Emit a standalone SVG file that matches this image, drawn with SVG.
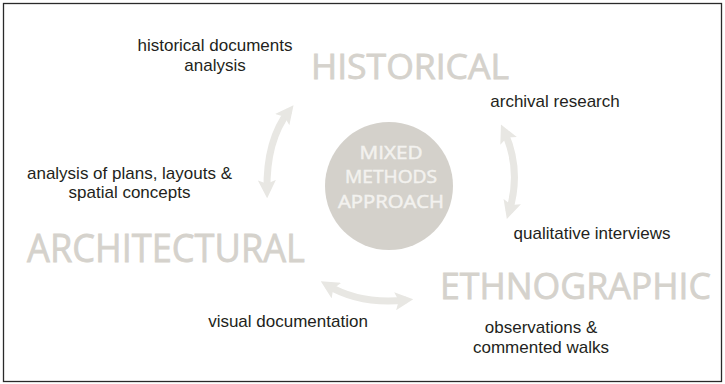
<svg xmlns="http://www.w3.org/2000/svg" width="725" height="384" viewBox="0 0 725 384">
<style>
.lbl{font-family:"Liberation Sans",Arial,sans-serif;font-size:17px;fill:#231f20;text-anchor:middle}
.big{font-family:"Open Sans","Noto Sans",sans-serif;fill:#d5d2cc;stroke:#d5d2cc;stroke-width:0.8}
.ctr{font-family:"Open Sans","Noto Sans",sans-serif;font-size:18px;fill:#f3f2ef;stroke:#f3f2ef;stroke-width:0.5;text-anchor:middle}
.arr{fill:none;stroke:#e8e7e3;stroke-width:7;marker-start:url(#hd);marker-end:url(#hd)}
</style>
<defs>
<marker id="hd" viewBox="0 0 10 10" refX="6" refY="5" markerWidth="2.6" markerHeight="2.6" orient="auto-start-reverse" markerUnits="strokeWidth">
<path d="M0,0 L10,5 L0,10 L2,5 Z" fill="#e8e7e3"/>
</marker>
</defs>
<rect x="3.5" y="3.5" width="718" height="378" fill="#fff" stroke="#2a2a2a" stroke-width="1.3"/>
<g id="connectors">
<path class="arr" d="M267,191 Q266,140 289,111"/>
<path class="arr" d="M504,131 Q522,170 509,212"/>
<path class="arr" d="M327,285 Q360,305 406,300"/>
</g>
<g id="center">
<circle cx="389" cy="186" r="64" fill="#d4d1cb"/>
<text class="ctr" x="391" y="159" textLength="63" lengthAdjust="spacingAndGlyphs">MIXED</text>
<text class="ctr" x="391" y="183" textLength="92" lengthAdjust="spacingAndGlyphs">METHODS</text>
<text class="ctr" x="391" y="208" textLength="106" lengthAdjust="spacingAndGlyphs">APPROACH</text>
</g>
<g id="historical">
<text class="big" x="311" y="79" font-size="34" textLength="198" lengthAdjust="spacingAndGlyphs">HISTORICAL</text>
</g>
<g id="architectural">
<text class="big" x="27" y="262" font-size="39" textLength="278" lengthAdjust="spacingAndGlyphs">ARCHITECTURAL</text>
</g>
<g id="ethnographic">
<text class="big" x="440" y="299" font-size="37" textLength="271" lengthAdjust="spacingAndGlyphs">ETHNOGRAPHIC</text>
</g>
<g id="labels">
<text class="lbl" x="215" y="51">historical documents</text>
<text class="lbl" x="215" y="71">analysis</text>
<text class="lbl" x="555" y="107">archival research</text>
<text class="lbl" x="592" y="239">qualitative interviews</text>
<text class="lbl" x="541" y="333">observations &amp;</text>
<text class="lbl" x="541" y="353">commented walks</text>
<text class="lbl" x="288" y="327">visual documentation</text>
<text class="lbl" x="129.5" y="179">analysis of plans, layouts &amp;</text>
<text class="lbl" x="129.5" y="198">spatial concepts</text>
</g>
</svg>
